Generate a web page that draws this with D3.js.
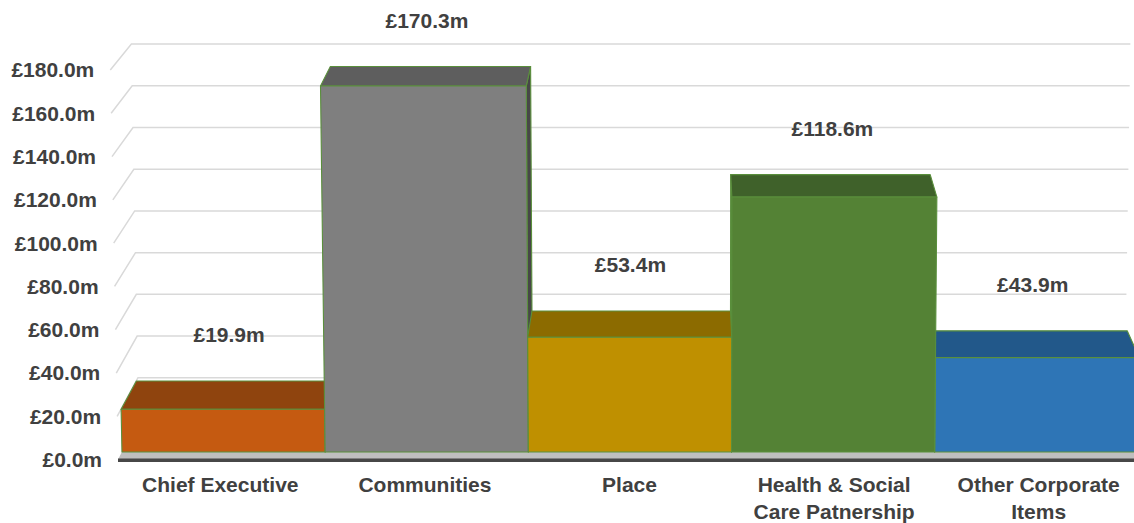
<!DOCTYPE html>
<html>
<head>
<meta charset="utf-8">
<script src="https://cdn.jsdelivr.net/npm/d3@7"></script>
<style>
  body { margin: 0; background: #ffffff; }
  svg text { font-family: "Liberation Sans", Arial, sans-serif; font-weight: bold; font-size: 21px; fill: #404040; }
</style>
</head>
<body>
<svg id="chart" width="1134" height="523"></svg>
<script>
// Budget by service area (£m)
const categories = ["Chief Executive", "Communities", "Place", "Health & Social Care Patnership", "Other Corporate Items"];
const categoryLines = [["Chief Executive"], ["Communities"], ["Place"], ["Health & Social", "Care Patnership"], ["Other Corporate", "Items"]];
const values = [19.9, 170.3, 53.4, 118.6, 43.9];
const yTicks = [0, 20, 40, 60, 80, 100, 120, 140, 160, 180];

const frontColors = ["#c55a11", "#7f7f7f", "#bf9000", "#548235", "#2e75b6"];
const topColors   = ["#8f440e", "#5e5e5e", "#8c6b00", "#3f612a", "#22588a"];
const sideColors  = ["#70340b", "#474747", "#6b5200", "#2f4a20", "#1a4369"];

const svg = d3.select("#chart");
const fmt = d => "£" + d3.format(".1f")(d) + "m";

// Front-plane scales
const x = d3.scaleBand().domain(categories).range([118, 1141]).padding(0);
const y = d3.scaleLinear().domain([0, 180]).range([459.6, 70]);
const Y0 = y(0);

// Perspective: vanishing point above the plot, slight vertical convergence
const VX = 688, VY = -640, DEPTH = 0.0365, CONV = 3.47e-5;
function proj(X, Yf, z) {
  const k = 1 - z * DEPTH;
  const g = 1 + (Y0 - Yf) * CONV;
  return [VX + (X - VX) * g * k, VY + (Yf - VY) * k];
}
const poly = pts => pts.map(p => p.join(",")).join(" ");

const xL = x.range()[0], xR = x.range()[1];

// Back wall and side wall gridlines
const grid = svg.append("g").attr("fill", "none").attr("stroke", "#d9d9d9").attr("stroke-width", 1.5);
yTicks.forEach(t => {
  const Yf = y(t);
  const a = proj(xL, Yf, 0), b = proj(xL, Yf, 1), c = proj(xR, Yf, 1);
  if (t > 0) grid.append("polyline").attr("points", poly([a, b, c]));
  else grid.append("line").attr("x1", b[0]).attr("y1", b[1]).attr("x2", c[0]).attr("y2", c[1]);
});

// Floor
svg.append("polygon")
  .attr("points", poly([proj(xL, Y0, 0), proj(xR, Y0, 0), proj(xR, Y0, 1), proj(xL, Y0, 1)]))
  .attr("fill", "#bfbfbf");
const f0 = proj(xL, Y0, 0), f1 = proj(xR, Y0, 0);
svg.append("line").attr("x1", f0[0]).attr("y1", f0[1] + 0.6).attr("x2", f1[0]).attr("y2", f1[1] + 0.6)
  .attr("stroke", "#474747").attr("stroke-width", 3.4);

// Y tick labels along the side wall front edge
svg.append("g").selectAll("text").data(yTicks).join("text")
  .attr("x", d => proj(xL, y(d), 0)[0] - 16)
  .attr("y", d => y(d))
  .attr("dy", "0.35em")
  .attr("text-anchor", "end")
  .text(fmt);

// Bars, drawn outer-first so nearer-to-centre bars overlap correctly
const zf = 0.19, zb = 0.92;
const bars = categories.map((c, i) => ({
  i, c, v: values[i], x0: x(c), x1: x(c) + x.bandwidth(), cx: x(c) + x.bandwidth() / 2
}));
const order = bars.slice().sort((a, b) => Math.abs(b.cx - VX) - Math.abs(a.cx - VX));

const barG = svg.append("g").attr("stroke", "#5a8f3c").attr("stroke-width", 1.1).attr("stroke-linejoin", "round");
order.forEach(b => {
  const Yt = y(b.v);
  const g = barG.append("g");
  if (b.x1 < VX) {
    g.append("polygon").attr("fill", sideColors[b.i])
      .attr("points", poly([proj(b.x1, Yt, zf), proj(b.x1, Yt, zb), proj(b.x1, Y0, zb), proj(b.x1, Y0, zf)]));
  } else if (b.x0 > VX) {
    g.append("polygon").attr("fill", sideColors[b.i])
      .attr("points", poly([proj(b.x0, Yt, zf), proj(b.x0, Yt, zb), proj(b.x0, Y0, zb), proj(b.x0, Y0, zf)]));
  }
  g.append("polygon").attr("fill", topColors[b.i])
    .attr("points", poly([proj(b.x0, Yt, zf), proj(b.x1, Yt, zf), proj(b.x1, Yt, zb), proj(b.x0, Yt, zb)]));
  g.append("polygon").attr("fill", frontColors[b.i])
    .attr("points", poly([proj(b.x0, Yt, zf), proj(b.x1, Yt, zf), proj(b.x1, Y0, zf), proj(b.x0, Y0, zf)]));
});

// Value labels above each bar
svg.append("g").selectAll("text").data(bars).join("text")
  .attr("x", d => proj(d.cx, y(d.v), (zf + zb) / 2)[0])
  .attr("y", d => proj(d.cx, y(d.v), zb)[1] - 46)
  .attr("dy", "0.35em")
  .attr("text-anchor", "middle")
  .text(d => fmt(d.v));

// Category labels
const catG = svg.append("g").selectAll("text").data(bars).join("text")
  .attr("text-anchor", "middle")
  .attr("x", d => proj(d.cx, Y0, 0)[0])
  .attr("y", 485);
catG.selectAll("tspan").data(d => categoryLines[d.i].map((t, j) => ({ t, j, x: proj(d.cx, Y0, 0)[0] })))
  .join("tspan")
  .attr("x", d => d.x)
  .attr("dy", d => d.j === 0 ? "0.35em" : "27")
  .text(d => d.t);
</script>
</body>
</html>
